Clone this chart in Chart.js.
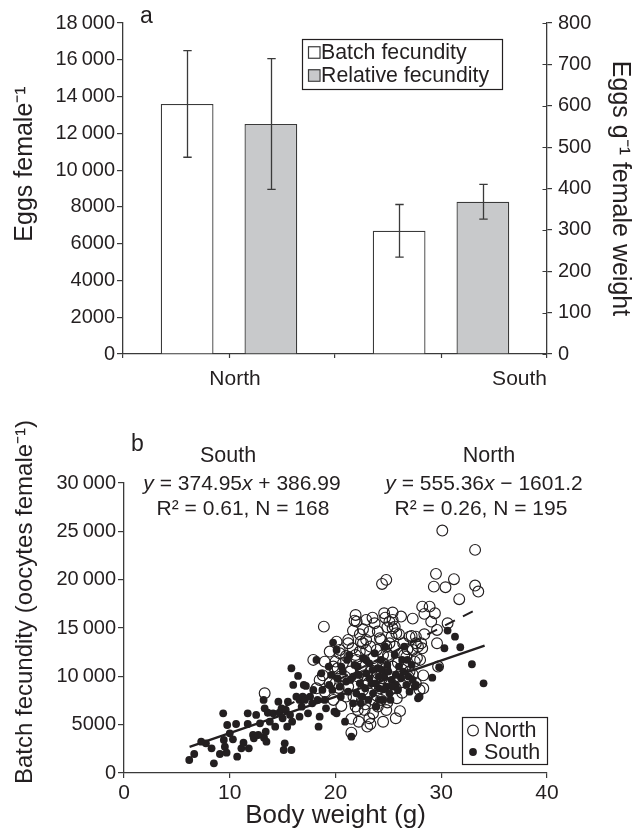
<!DOCTYPE html>
<html><head><meta charset="utf-8">
<script src="https://cdn.jsdelivr.net/npm/chart.js@4.4.1/dist/chart.umd.min.js"></script>
<style>
html,body{margin:0;padding:0;background:#fff;}
#wrapA{position:absolute;left:0;top:0;width:644px;height:400px;}
#wrapB{position:absolute;left:0;top:400px;width:644px;height:434px;}
</style></head><body>
<div id="wrapA"><canvas id="chartA"></canvas></div>
<div id="wrapB"><canvas id="chartB"></canvas></div>
<script>
// ---------- Panel a data ----------
const regions = ['North', 'South'];
const batchFecundity = [13600, 6700];
const batchError = [2900, 1430];
const relativeFecundity = [556, 368];
const relativeError = [158, 42];

// ---------- Panel b data ----------
const northWeight = [30.1,33.2,24.4,24.8,29.5,31.2,29.3,30.4,33.2,33.5,31.7,28.2,28.9,28.4,29.4,27.3,29.05,30.6,29.6,18.9,21.9,21.8,23.5,24.6,24.7,25.4,26.2,24.9,25.6,21.65,23.2,25.75,27.0,27.6,28.1,29.6,28.2,20.1,21.2,22.4,22.9,24.2,25.1,26.4,17.9,19.45,20.4,22.3,23.9,24.5,26.7,27.3,28.0,
13.3,18.98,19.8,20.0,19.45,20.55,21.0,22.0,22.3,21.6,21.9,21.7,21.9,22.1,21.5,22.5,22.75,23.2,23.3,23.55,23.6,24.0,23.3,23.55,23.86,24.2,25.1,25.4,25.3,25.6,24.8,24.96,24.5,25.4,24.8,25.1,25.7,25.8,25.3,26.0,26.5,26.7,26.9,27.2,27.6,27.6,27.8,27.95,28.3,29.7,28.4,27.5,27.0,26.0,25.7,23.86,22.9,22.6,22.4,22.1,23.1,22.6,23.2,24.3,24.6,20.9,20.4,21.2,20.7,21.2,19.8,20.2,18.2,18.5,24.3,24.0,23.7,22.9,22.6,25.4,
21.4,22.0,22.7,23.4,23.0,24.0,24.4,24.7,25.0,25.9,26.3,26.8,27.3,21.0,20.5,22.8,23.9,24.9,26.3,19.0,20.3,27.7,28.3,21.5,24.5,22.2,26.1,23.0,20.0,18.8];
const northFecundity = [25080,23080,19560,19980,20600,20050,19280,19220,19390,18770,17980,17210,17210,16460,16530,15970,15660,15490,14800,15140,16350,15760,16070,16530,16070,15840,16180,15080,15140,14730,14620,14460,14110,14110,13420,13420,12900,13590,13770,13590,13770,13940,13420,13420,11700,12560,12390,12560,12730,12210,12040,12730,11700,
8250,11520,11010,11520,9350,6940,7900,15660,14350,12900,12210,7900,6870,6520,4170,7560,6520,5660,5070,6180,7560,6870,13080,11870,9970,8760,15660,14970,14110,13080,13080,12210,11350,11010,6520,9280,5660,7730,8760,14350,12210,11180,9970,14180,13420,9280,13080,8590,8760,11010,14350,11520,10490,9970,8760,11010,12730,13420,11010,9970,9280,8590,8250,7560,9280,9970,12730,13420,11350,8940,7560,10830,8760,9630,13770,14630,15490,15840,14870,16600,
10500,11700,10100,10600,9600,10300,9800,10800,12000,11400,10700,12800,10200,12100,10000,7100,8000,7300,8300,8400,8800,11900,10100,5600,5300,5300,6400,4800,9300,10100];

const southWeight = [6.17,6.64,7.3,7.75,8.28,8.5,9.07,9.38,9.44,9.54,9.7,9.76,10.0,10.3,10.6,10.7,11.1,11.3,11.7,11.8,11.7,12.2,12.28,12.5,12.7,12.86,13.2,13.24,13.3,13.4,13.47,13.6,13.79,14.1,14.3,14.6,14.7,14.9,15.0,15.1,15.2,15.3,15.43,15.5,15.7,15.83,15.83,15.9,16.0,16.3,16.46,16.6,16.6,16.8,16.9,17.1,17.2,17.4,17.6,17.9,18.2,18.3,18.4,18.5,18.66,18.76,18.98,19.1,19.4,19.6,19.77,19.9,20.1,20.1,20.2,20.4,20.55,20.9,21.0,21.2,21.3,21.5,21.66,21.97,22.1,22.3,22.4,22.6,22.8,22.9,23.1,23.2,23.4,23.55,23.7,23.86,24.0,24.1,24.3,24.5,24.6,24.7,24.8,24.9,25.1,25.3,25.6,25.7,26.0,26.2,26.3,26.5,26.7,26.8,27.0,27.2,27.5,27.8,27.95,29.15,29.8,30.3,30.6,31.3,31.8,32.9,34.0,
20.7,21.1,21.4,21.8,22.2,22.5,22.9,23.2,23.5,23.8,24.1,24.4,24.55,25.0,25.4,25.7,25.9,26.4,26.9,27.3,27.6,19.36,19.7,20.5,21.66,24.2,25.2,17.8,17.0];
const southFecundity = [1345,1966,3243,3070,2553,1000,1966,6175,3415,2725,2104,4968,4105,3485,5071,1690,2553,3140,6175,2553,5071,3933,3588,6003,3933,5140,7556,3657,6693,4278,3243,6244,5313,6175,4795,7383,6244,6693,5658,2380,3070,6520,4795,7383,6003,2380,10834,5313,9108,7900,10040,5830,7556,6866,7900,7556,9005,6175,7900,8590,11696,7556,4795,5830,10316,8590,7556,6693,9108,10143,13490,6347,12730,6175,9798,8935,11006,5313,9453,8418,12213,3760,9970,8245,11006,9280,7210,11869,8763,10316,7556,11350,9280,8245,12386,6866,10834,8763,11696,7556,9970,13076,8935,11180,8245,9626,12213,9108,11006,9798,11696,13076,9108,11696,8418,11180,8935,7728,7900,9864,10940,12906,14730,14107,13010,11250,9280,
10488,11696,9626,11180,10143,7900,11696,9798,10661,9280,9970,10661,8659,10488,8935,10143,8590,10488,9970,9626,9108,11006,8590,7900,7210,7556,7556,7210,9108];

// regression line end points
const southFitX = [6.2, 34.1];
const southFitY = [2700, 13170];
const northFitX = [13.5, 33.4];
const northFitY = [5900, 16950];

// ---------- styles ----------
const FONT = "'Liberation Sans', Arial, Helvetica, sans-serif";
const INK = '#231f20';
const AXIS = '#3a3a3a';

function fmt(v) {
  const s = String(v);
  return v >= 10000 ? s.slice(0, s.length - 3) + '\u2009' + s.slice(-3) : s;
}
function pairs(xs, ys) { return xs.map((x, i) => ({x: x, y: ys[i]})); }

function drawRich(ctx, segs, cx, y, size) {
  const fonts = segs.map(s => (s[1] ? 'italic ' : '') + size + 'px ' + FONT);
  let w = 0;
  segs.forEach((s, k) => { ctx.font = fonts[k]; w += ctx.measureText(s[0]).width; });
  let x = cx - w / 2;
  ctx.textAlign = 'left'; ctx.textBaseline = 'alphabetic'; ctx.fillStyle = INK;
  segs.forEach((s, k) => { ctx.font = fonts[k]; ctx.fillText(s[0], x, y); x += ctx.measureText(s[0]).width; });
}

const textPlugin = {
  id: 'texts',
  afterDraw(chart, args, opts) {
    const ctx = chart.ctx;
    (opts.items || []).forEach(it => {
      ctx.save();
      ctx.translate(it.x, it.y);
      ctx.rotate(it.rotate || 0);
      ctx.font = it.size + 'px ' + FONT;
      ctx.fillStyle = INK;
      ctx.textAlign = it.align || 'center';
      ctx.textBaseline = it.baseline || 'alphabetic';
      ctx.fillText(it.text, 0, 0);
      ctx.restore();
    });
    (opts.rich || []).forEach(r => { ctx.save(); drawRich(ctx, r.segs, r.x, r.y, r.size); ctx.restore(); });
  }
};

const errorBars = {
  id: 'errorBars',
  afterDatasetsDraw(chart, args, opts) {
    const ctx = chart.ctx;
    chart.data.datasets.forEach((ds, i) => {
      if (!ds.errors) return;
      const meta = chart.getDatasetMeta(i);
      const ys = chart.scales[meta.yAxisID];
      meta.data.forEach((el, j) => {
        const v = ds.data[j], e = ds.errors[j];
        const yT = ys.getPixelForValue(v + e), yB = ys.getPixelForValue(v - e);
        const x = Math.round(el.x) + 0.5;
        ctx.save();
        ctx.strokeStyle = opts.color; ctx.lineWidth = opts.width;
        ctx.beginPath();
        ctx.moveTo(x, yT); ctx.lineTo(x, yB);
        ctx.moveTo(x - opts.cap, yT); ctx.lineTo(x + opts.cap, yT);
        ctx.moveTo(x - opts.cap, yB); ctx.lineTo(x + opts.cap, yB);
        ctx.stroke();
        ctx.restore();
      });
    });
  }
};

const catAxis = {
  id: 'catAxis',
  afterDraw(chart, args, o) {
    const xs = chart.scales.x, y1 = chart.scales.y1, ca = chart.chartArea, ctx = chart.ctx;
    ctx.save();
    ctx.font = o.size + 'px ' + FONT; ctx.fillStyle = INK; ctx.textBaseline = 'alphabetic';
    const labels = chart.data.labels;
    labels.forEach((lab, i) => {
      const last = i === labels.length - 1;
      ctx.textAlign = last ? 'right' : 'center';
      const x = last ? ca.right : xs.getPixelForValue(i) + o.shift;
      ctx.fillText(lab, x, o.baseline);
    });
    ctx.strokeStyle = AXIS; ctx.lineWidth = 1.2;
    ctx.beginPath();
    labels.forEach((lab, i) => {
      const x = Math.round(xs.getPixelForValue(i)) + 0.5;
      ctx.moveTo(x, ca.bottom); ctx.lineTo(x, ca.bottom + o.tick);
    });
    y1.ticks.forEach(t => {
      const y = Math.round(y1.getPixelForValue(t.value)) + 0.5;
      ctx.moveTo(ca.right - o.inner, y); ctx.lineTo(ca.right, y);
    });
    ctx.stroke();
    ctx.restore();
  }
};

const boxLegend = {
  id: 'boxLegend',
  afterDraw(chart, args, o) {
    const ctx = chart.ctx;
    ctx.save();
    ctx.fillStyle = '#fff';
    ctx.fillRect(o.left, o.top, o.width, o.height);
    ctx.strokeStyle = INK; ctx.lineWidth = 1.2;
    ctx.strokeRect(o.left + 0.5, o.top + 0.5, o.width, o.height);
    ctx.font = o.size + 'px ' + FONT; ctx.textBaseline = 'middle'; ctx.textAlign = 'left';
    o.order.forEach((di, r) => {
      const ds = chart.data.datasets[di];
      const cy = o.top + o.first + r * o.row;
      if (o.marker === 'box') {
        ctx.fillStyle = ds.backgroundColor;
        ctx.fillRect(o.mx, cy - o.msize / 2, o.msize, o.msize);
        ctx.strokeStyle = AXIS; ctx.lineWidth = 1.2;
        ctx.strokeRect(o.mx + 0.5, cy - o.msize / 2 + 0.5, o.msize, o.msize);
      } else {
        ctx.beginPath();
        ctx.arc(o.mx, cy, ds.pointRadius, 0, Math.PI * 2);
        if (ds.pointBorderWidth > 0) { ctx.strokeStyle = ds.borderColor; ctx.lineWidth = ds.pointBorderWidth; ctx.stroke(); }
        else { ctx.fillStyle = ds.backgroundColor; ctx.fill(); }
      }
      ctx.fillStyle = INK;
      ctx.fillText(ds.label, o.tx, cy + 1);
    });
    ctx.restore();
  }
};

// ---------- Panel a ----------
new Chart(document.getElementById('chartA'), {
  type: 'bar',
  data: {
    labels: regions,
    datasets: [
      {label: 'Batch fecundity', data: batchFecundity, errors: batchError, yAxisID: 'y',
       backgroundColor: '#ffffff', borderColor: AXIS, borderWidth: 1.3,
       categoryPercentage: 0.79, barPercentage: 0.63},
      {label: 'Relative fecundity', data: relativeFecundity, errors: relativeError, yAxisID: 'y1',
       backgroundColor: '#c8c9cb', borderColor: AXIS, borderWidth: 1.3,
       categoryPercentage: 0.79, barPercentage: 0.63}
    ]
  },
  options: {
    responsive: true, maintainAspectRatio: false, animation: false,
    layout: {padding: {top: 23, left: 0, right: 0, bottom: 0}},
    plugins: {
      legend: {display: false}, tooltip: {enabled: false},
      errorBars: {color: AXIS, width: 1.3, cap: 4.2},
      catAxis: {size: 21, shift: 6, baseline: 385, tick: 4, inner: 4.5},
      boxLegend: {left: 302, top: 39, width: 200, height: 50, first: 13, row: 23, marker: 'box',
                  mx: 308, msize: 11.5, tx: 321, size: 21.3, order: [0, 1]},
      texts: {items: [
        {text: 'Eggs female\u207B\u00B9', x: 25, y: 164, rotate: -Math.PI / 2, size: 25, baseline: 'middle'},
        {text: 'a', x: 140, y: 23, align: 'left', size: 23}
      ]}
    },
    scales: {
      x: {type: 'category', offset: true,
          grid: {offset: true, drawOnChartArea: false, drawTicks: true, tickLength: 4, color: AXIS, lineWidth: 1.2},
          border: {color: AXIS, width: 1.3},
          ticks: {display: false},
          afterFit(s) { s.height = 46; }},
      y: {position: 'left', min: 0, max: 18000,
          ticks: {stepSize: 2000, callback: fmt, font: {family: FONT, size: 20}, color: INK, padding: 2},
          grid: {drawOnChartArea: false, tickLength: 6, color: AXIS, lineWidth: 1.2},
          border: {color: AXIS, width: 1.3},
          afterFit(s) { s.width = 123; }},
      y1: {position: 'right', min: 0, max: 800,
           ticks: {stepSize: 100, font: {family: FONT, size: 20}, color: INK, padding: 6},
           grid: {drawOnChartArea: false, tickLength: 5, color: AXIS, lineWidth: 1.2},
           border: {color: AXIS, width: 1.3},
           title: {display: true, text: 'Eggs g\u207B\u00B9 female weight', font: {family: FONT, size: 25}, color: INK, padding: {top: 9, bottom: 0}},
           afterFit(s) { s.width = 97; }}
    }
  },
  plugins: [errorBars, catAxis, boxLegend, textPlugin]
});

// ---------- Panel b ----------
new Chart(document.getElementById('chartB'), {
  type: 'scatter',
  data: {
    datasets: [
      {type: 'line', label: 'South fit', data: pairs(southFitX, southFitY), borderColor: INK, borderWidth: 2.4,
       pointRadius: 0, fill: false},
      {type: 'line', label: 'North fit', data: pairs(northFitX, northFitY), borderColor: INK, borderWidth: 2,
       borderDash: [11, 9], pointRadius: 0, fill: false},
      {label: 'South', data: pairs(southWeight, southFecundity), pointRadius: 3.9, backgroundColor: INK,
       borderColor: INK, pointBorderWidth: 0, borderWidth: 0},
      {label: 'North', data: pairs(northWeight, northFecundity), pointRadius: 5.4, backgroundColor: 'rgba(0,0,0,0)',
       borderColor: INK, pointBorderWidth: 1.15, borderWidth: 1.15}
    ]
  },
  options: {
    responsive: true, maintainAspectRatio: false, animation: false,
    layout: {padding: {top: 83, left: 0, right: 97, bottom: 0}},
    plugins: {
      legend: {display: false}, tooltip: {enabled: false},
      boxLegend: {left: 462, top: 317, width: 85, height: 47, first: 13.5, row: 21.5, marker: 'circle',
                  mx: 473, tx: 484, size: 21.5, order: [3, 2]},
      texts: {
        items: [
          {text: 'Batch fecundity (oocytes female\u207B\u00B9)', x: 25, y: 202, rotate: -Math.PI / 2, size: 24, baseline: 'middle'},
          {text: 'b', x: 131, y: 51, align: 'left', size: 23},
          {text: 'South', x: 228, y: 62, size: 21.5},
          {text: 'North', x: 489, y: 62, size: 21.5},
          {text: 'R\u00B2 = 0.61, N = 168', x: 243, y: 115, size: 21},
          {text: 'R\u00B2 = 0.26, N = 195', x: 481, y: 115, size: 21}
        ],
        rich: [
          {segs: [['y', true], [' = 374.95', false], ['x', true], [' + 386.99', false]], x: 242, y: 90, size: 21},
          {segs: [['y', true], [' = 555.36', false], ['x', true], [' \u2212 1601.2', false]], x: 484, y: 90, size: 21}
        ]
      }
    },
    scales: {
      x: {type: 'linear', min: 0, max: 40,
          ticks: {stepSize: 10, font: {family: FONT, size: 21}, color: INK, padding: 3},
          grid: {drawOnChartArea: false, tickLength: 5, color: AXIS, lineWidth: 1.2},
          border: {color: AXIS, width: 1.3},
          title: {display: true, text: 'Body weight (g)', font: {family: FONT, size: 26}, color: INK, padding: {top: 0, bottom: 3}},
          afterFit(s) { s.height = 61; }},
      y: {type: 'linear', min: 0, max: 30000,
          ticks: {stepSize: 5000, callback: fmt, font: {family: FONT, size: 20}, color: INK, padding: 2},
          grid: {drawOnChartArea: false, tickLength: 6, color: AXIS, lineWidth: 1.2},
          border: {color: AXIS, width: 1.3},
          afterFit(s) { s.width = 124; }}
    }
  },
  plugins: [boxLegend, textPlugin]
});
</script>
</body></html>
